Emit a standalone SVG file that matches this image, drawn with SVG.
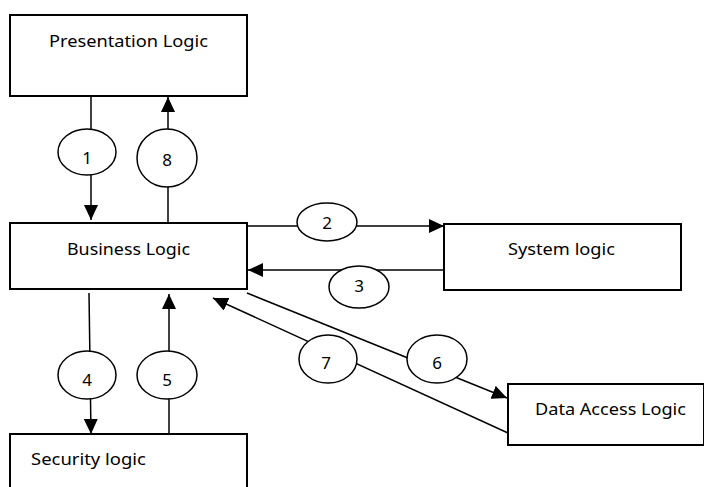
<svg xmlns="http://www.w3.org/2000/svg" width="704" height="487" viewBox="0 0 704 487">
<style>
.box{fill:#fff;stroke:#000;stroke-width:2}
.ell{fill:#fff;stroke:#000;stroke-width:1.5}
.ln{stroke:#000;stroke-width:1.5;fill:none}
text{font-family:"Noto Sans","Open Sans",sans-serif;font-size:17px;fill:#000}
.c{text-anchor:middle}
</style>
<defs>
<marker id="ah" markerUnits="userSpaceOnUse" markerWidth="16" markerHeight="14" refX="15" refY="7" orient="auto">
<path d="M0,0 L15,7 L0,14 Z" fill="#000"/>
</marker>
</defs>
<g id="presentation"><rect class="box" x="10" y="15" width="237" height="81"/><text x="49" y="47" textLength="159" lengthAdjust="spacingAndGlyphs">Presentation Logic</text></g>
<g id="business"><rect class="box" x="10" y="223" width="237" height="66"/><text x="67" y="255" textLength="123" lengthAdjust="spacingAndGlyphs">Business Logic</text></g>
<g id="system"><rect class="box" x="444" y="224" width="237" height="66"/><text x="508" y="255" textLength="107" lengthAdjust="spacingAndGlyphs">System logic</text></g>
<g id="dataaccess"><rect class="box" x="508" y="384" width="196" height="61"/><text x="535" y="415" textLength="151" lengthAdjust="spacingAndGlyphs">Data Access Logic</text></g>
<g id="security"><rect class="box" x="10" y="434" width="237" height="60"/><text x="31" y="465" textLength="115" lengthAdjust="spacingAndGlyphs">Security logic</text></g>
<g id="connectors">
<line class="ln" x1="91" y1="96" x2="91" y2="220" marker-end="url(#ah)"/>
<line class="ln" x1="168" y1="223" x2="168" y2="97" marker-end="url(#ah)"/>
<line class="ln" x1="247" y1="226" x2="444" y2="226" marker-end="url(#ah)"/>
<line class="ln" x1="444" y1="270" x2="248" y2="270" marker-end="url(#ah)"/>
<line class="ln" x1="247" y1="293" x2="507" y2="398" marker-end="url(#ah)"/>
<line class="ln" x1="508" y1="433" x2="213" y2="298" marker-end="url(#ah)"/>
<line class="ln" x1="89" y1="293" x2="91" y2="434" marker-end="url(#ah)"/>
<line class="ln" x1="169" y1="434" x2="169" y2="294" marker-end="url(#ah)"/>
</g>
<g id="label1"><ellipse class="ell" cx="87" cy="152" rx="29" ry="23"/><text class="c" x="87" y="164">1</text></g>
<g id="label8"><ellipse class="ell" cx="167" cy="158" rx="30" ry="29"/><text class="c" x="167" y="166">8</text></g>
<g id="label2"><ellipse class="ell" cx="327" cy="222" rx="30" ry="19"/><text class="c" x="327" y="229">2</text></g>
<g id="label3"><ellipse class="ell" cx="359" cy="287" rx="30" ry="21"/><text class="c" x="359" y="292">3</text></g>
<g id="label7"><ellipse class="ell" cx="328" cy="359" rx="29" ry="24"/><text class="c" x="326" y="369">7</text></g>
<g id="label6"><ellipse class="ell" cx="437" cy="359" rx="30" ry="24"/><text class="c" x="437" y="369">6</text></g>
<g id="label4"><ellipse class="ell" cx="87" cy="375" rx="29" ry="24"/><text class="c" x="87" y="386">4</text></g>
<g id="label5"><ellipse class="ell" cx="167" cy="375" rx="30" ry="24"/><text class="c" x="167" y="386">5</text></g>
</svg>
